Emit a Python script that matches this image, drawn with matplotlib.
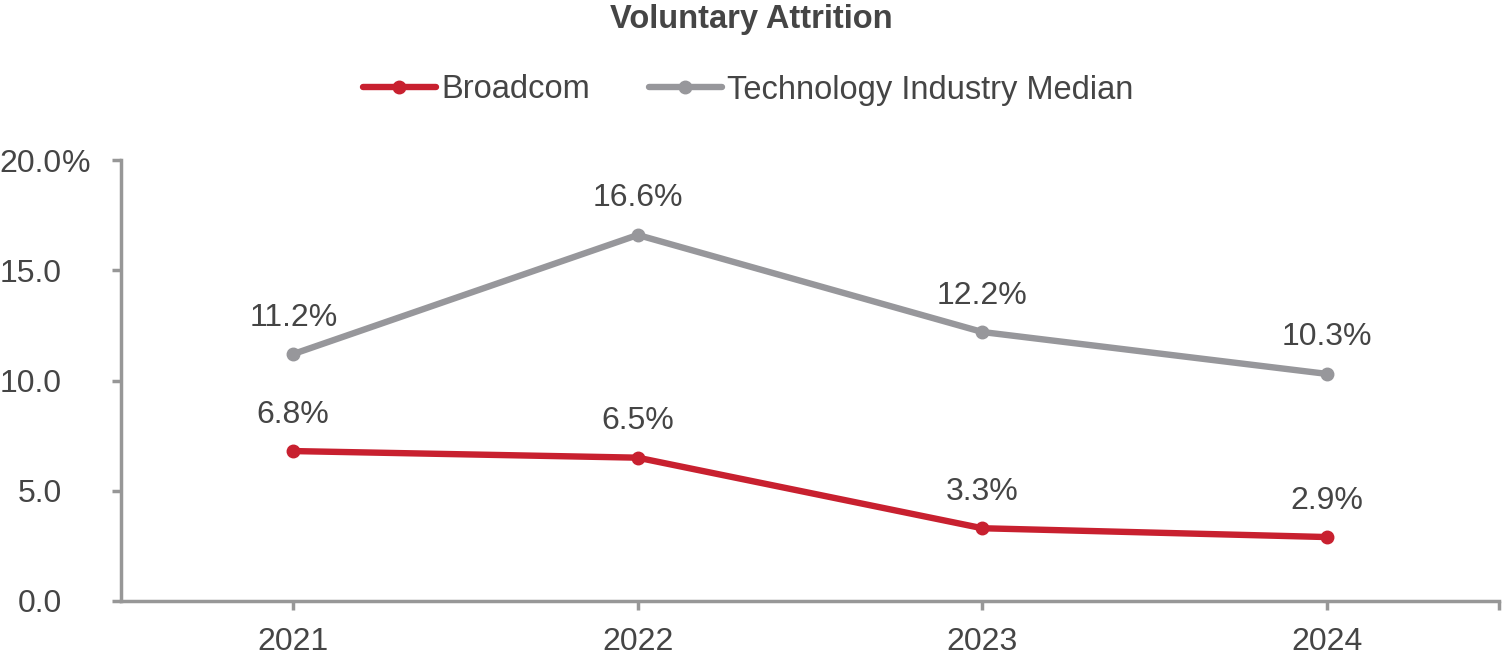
import matplotlib
matplotlib.use("Agg")
import matplotlib.pyplot as plt

years = ["2021", "2022", "2023", "2024"]
broadcom = [6.8, 6.5, 3.3, 2.9]
tech_median = [11.2, 16.6, 12.2, 10.3]
yticks = [0, 5, 10, 15, 20]
ytick_labels = ["0.0", "5.0", "10.0", "15.0", "20.0"]

RED = "#c8202f"
GRAY = "#97979b"
TEXT = "#454545"
AXIS = "#979797"

plt.rcParams["font.family"] = ["Liberation Sans", "DejaVu Sans"]

fig = plt.figure(figsize=(15.02, 6.61), dpi=100)
ax = fig.add_axes([121/1502, 1-601/661, (1499-121)/1502, (601-160)/661])

x = list(range(len(years)))
l1, = ax.plot(x, broadcom, color=RED, lw=4.6, marker="o", ms=9, label="Broadcom", solid_capstyle="round")
l2, = ax.plot(x, tech_median, color=GRAY, lw=4.6, marker="o", ms=9, label="Technology Industry Median", solid_capstyle="round")

for series in (broadcom, tech_median):
    for xi, v in zip(x, series):
        ax.annotate(f"{v:.1f}%", (xi, v), xytext=(0, 20.5), textcoords="offset points",
                    ha="center", va="baseline", fontsize=23, color=TEXT)

ax.set_xlim(-0.5, 3.5)
ax.set_ylim(0, 20)
ax.set_xticks(x)
ax.set_xticklabels(years)
ax.set_xticks([3.5], minor=True)
ax.set_yticks(yticks)
ax.set_yticklabels(ytick_labels)

for s in ["top", "right"]:
    ax.spines[s].set_visible(False)
for s in ["left", "bottom"]:
    ax.spines[s].set_color(AXIS)
    ax.spines[s].set_linewidth(2.5)

ax.tick_params(axis="both", which="both", colors=AXIS, width=2.5, length=6.5, labelsize=23, labelcolor=TEXT)
ax.tick_params(axis="x", pad=12.5)
ax.tick_params(axis="y", pad=36)

# percent sign after the top y tick label
ax.annotate("%", xy=(0, yticks[-1]), xycoords=ax.get_yaxis_transform(),
            xytext=(-(121 - 62) * 0.72, 0), textcoords="offset points",
            ha="left", va="center_baseline", fontsize=23, color=TEXT, annotation_clip=False)

for ln in (l1, l2):
    ln.set_clip_on(False)

fig.text(0.5, 1-28/661, "Voluntary Attrition", ha="center", va="baseline",
         fontsize=23.5, fontweight="bold", color=TEXT)

leg = fig.legend(handles=[l1, l2], loc="center", bbox_to_anchor=(748/1502, 1-90/661),
                 ncol=2, frameon=False, fontsize=23.5, handlelength=2.25,
                 handletextpad=0.15, columnspacing=1.8, labelcolor=TEXT)

fig.savefig("out.png", dpi=100)
